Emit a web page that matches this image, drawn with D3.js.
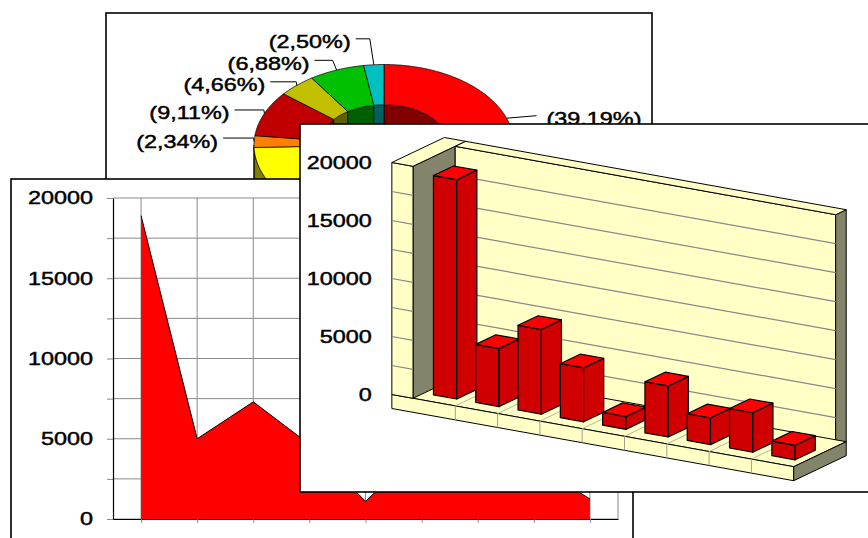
<!DOCTYPE html>
<html><head><meta charset="utf-8">
<script src="https://cdn.jsdelivr.net/npm/d3@7"></script>
<style>
body{margin:0;background:#fff}
svg{display:block}
text{font-family:"Liberation Sans",Arial,sans-serif;fill:#000;stroke:#000;stroke-width:0.45px}
</style>
</head><body>
<svg id="c" width="868" height="538"></svg>
<script>
// ---------------- data ----------------
const categories = ["1","2","3","4","5","6","7","8","9"];
const values = [18900, 5000, 7300, 4650, 1100, 4400, 2300, 3400, 1250];
const pieShares = [39.19, 10.63, 15.03, 9.66, 2.34, 9.11, 4.66, 6.88, 2.50];
const pieColors = ["#FF0000","#3333CC","#808000","#FFFF00","#FF8000","#C00000","#C0C000","#00C000","#00C0C0"];
const yTicks = [0, 5000, 10000, 15000, 20000];
const gridStep = 2500;

// ---------------- helpers ----------------
const svg = d3.select("#c");
const FS = 18, SX = 1.3;
function label(g, x, y, txt, anchor){
  g.append("text")
    .attr("transform", `translate(${x},${y}) scale(${SX},1)`)
    .attr("text-anchor", anchor).attr("dy","0.36em")
    .attr("font-size", FS).text(txt);
}
function panel(x,y,w,h){
  const g = svg.append("g");
  g.append("rect").attr("x",x).attr("y",y).attr("width",w).attr("height",h)
    .attr("fill","#fff").attr("stroke","#000").attr("stroke-width",1.6);
  return g;
}
const pathOf = pts => "M" + pts.map(p => p[0].toFixed(2)+","+p[1].toFixed(2)).join("L") + "Z";
const gridVals = d3.range(0, 20000 + 1, gridStep);

// ================= 1. Doughnut panel (back) =================
const gP = panel(106, 13, 546, 330);
const PC = {cx:384, cy:145, rx:130, ry:80.5, hole:0.5, h:36};
const ept = (a,f,dy=0) => [PC.cx + f*PC.rx*Math.sin(a), PC.cy - f*PC.ry*Math.cos(a) + dy];
const arcPts = (a0,a1,f,dy=0) => {
  const n = Math.max(2, Math.ceil(Math.abs(a1-a0)/0.02));
  return d3.range(n+1).map(i => ept(a0 + (a1-a0)*i/n, f, dy));
};
const darkC = c => { const r = d3.rgb(c); return d3.rgb(r.r*0.5, r.g*0.5, r.b*0.5).formatHex(); };
const clipRange = (a0,a1,lo,hi) => { const s=Math.max(a0,lo), e=Math.min(a1,hi); return s<e ? [[s,e]] : []; };
const slices = d3.pie().sort(null).value(d => d)(pieShares);
const PI = Math.PI;

svg.append("defs").append("clipPath").attr("id","holeClip")
  .append("ellipse").attr("cx",PC.cx).attr("cy",PC.cy)
  .attr("rx",PC.rx*PC.hole).attr("ry",PC.ry*PC.hole);

const gInner = gP.append("g").attr("clip-path","url(#holeClip)");
slices.forEach((s,i) => {
  const segs = clipRange(s.startAngle,s.endAngle,0,PI/2).concat(clipRange(s.startAngle,s.endAngle,1.5*PI,2*PI));
  segs.forEach(([a0,a1]) => {
    gInner.append("path")
      .attr("d", pathOf(arcPts(a0,a1,PC.hole,0).concat(arcPts(a1,a0,PC.hole,PC.h))))
      .attr("fill", darkC(pieColors[i])).attr("stroke","#000").attr("stroke-width",0.7);
  });
});
slices.forEach((s,i) => {
  clipRange(s.startAngle,s.endAngle,PI/2,1.5*PI).forEach(([a0,a1]) => {
    gP.append("path")
      .attr("d", pathOf(arcPts(a0,a1,1,0).concat(arcPts(a1,a0,1,PC.h))))
      .attr("fill", darkC(pieColors[i])).attr("stroke","#000").attr("stroke-width",0.7);
  });
});
slices.forEach((s,i) => {
  gP.append("path")
    .attr("d", pathOf(arcPts(s.startAngle,s.endAngle,1).concat(arcPts(s.endAngle,s.startAngle,PC.hole))))
    .attr("fill", pieColors[i]).attr("stroke","#000").attr("stroke-width",0.7);
});

// labels (slices on the upper half; lower ones lie under the front panels)
const fmtPct = v => "(" + v.toFixed(2).replace(".", ",") + "%)";
const labs = slices.map((s,i) => {
  const mid = (s.startAngle + s.endAngle)/2;
  return {i, mid, E: ept(mid,1), txt: fmtPct(pieShares[i])};
}).filter(d => d.E[1] < PC.cy);
const leftL = labs.filter(d => d.mid > PI).sort((a,b) => b.E[1]-a.E[1]);
let prevY = Infinity;
leftL.forEach(d => {
  d.ly = Math.min(d.E[1] - 0.5, prevY - 21.5); prevY = d.ly;
  const tr = d.E[0] - 22 - 14*Math.abs(Math.sin(d.mid));
  const bx = d.E[0] - Math.min(4, Math.abs(d.E[1]-d.ly));
  gP.append("path").attr("d", `M${d.E[0]},${d.E[1]}L${bx},${d.ly-3}L${tr+5},${d.ly-3}`)
    .attr("fill","none").attr("stroke","#000").attr("stroke-width",1);
  label(gP, tr, d.ly, d.txt, "end");
});
labs.filter(d => d.mid <= PI).forEach(d => {
  d.ly = d.E[1] + 0.5;
  gP.append("path").attr("d", `M${d.E[0]},${d.E[1]}L${d.E[0]+30},${d.ly-3}`)
    .attr("fill","none").attr("stroke","#000").attr("stroke-width",1);
  label(gP, d.E[0] + 40, d.ly, d.txt, "start");
});

// ================= 2. Area chart panel (middle) =================
const gA = panel(11, 179, 622, 420);
const ax = d3.scalePoint().domain(categories).range([113, 618]).padding(0.5);
const ay = d3.scaleLinear().domain([0, 20000]).range([519, 198]);
const gridCol = "#8a8a8a";
gA.selectAll(".hg").data(gridVals).join("line")
  .attr("x1",113).attr("x2",618).attr("y1",d=>ay(d)).attr("y2",d=>ay(d))
  .attr("stroke",gridCol).attr("stroke-width",1);
gA.selectAll(".vg").data(categories).join("line")
  .attr("x1",d=>ax(d)).attr("x2",d=>ax(d)).attr("y1",ay(20000)).attr("y2",ay(0))
  .attr("stroke",gridCol).attr("stroke-width",1);
gA.append("line").attr("x1",618).attr("x2",618).attr("y1",ay(20000)).attr("y2",ay(0))
  .attr("stroke",gridCol).attr("stroke-width",1);
gA.append("path").datum(values)
  .attr("d", d3.area().x((d,i)=>ax(categories[i])).y0(ay(0)).y1(d=>ay(d)))
  .attr("fill","#FF0000");
gA.append("path").datum(values)
  .attr("d", d3.line().x((d,i)=>ax(categories[i])).y(d=>ay(d)))
  .attr("fill","none").attr("stroke","#000").attr("stroke-width",1);
const yAx = gA.append("g").attr("transform","translate(113,0)")
  .call(d3.axisLeft(ay).tickValues(gridVals).tickSize(6).tickSizeOuter(0).tickFormat(""));
yAx.selectAll("line").attr("stroke",gridCol);
yAx.select(".domain").attr("stroke","#000").attr("stroke-width",1.2);
const xAx = gA.append("g").attr("transform",`translate(0,${ay(0)})`)
  .call(d3.axisBottom(ax).tickSize(4).tickSizeOuter(0).tickFormat(""));
xAx.selectAll("line").attr("stroke",gridCol);
xAx.select(".domain").attr("stroke","#000").attr("stroke-width",1.2);
yTicks.forEach(v => label(gA, 93, ay(v), String(v), "end"));

// ================= 3. 3-D column panel (front) =================
const gB = panel(300, 124, 600, 368);
const bv = d3.scaleLinear().domain([0, 20000]).range([0, 232]);
const O = {x:413, y:398.3, ux:42.3, uy:7.6, dx:42, dy:-20};
const P = (c,z,v) => [O.x + c*O.ux + z*O.dx, O.y + c*O.uy + z*O.dy - bv(v)];
const cream = "#FFFFC6", side = "#84846A";
const nC = categories.length;
const floorT = bv.invert(14);
const wallL = -0.5, wallD = 1.25, vTop = 20000;
function poly(pts, fill, sw=1){
  gB.append("path").attr("d", pathOf(pts)).attr("fill", fill)
    .attr("stroke","#000").attr("stroke-width",sw).attr("stroke-linejoin","round");
}
function seg(a,b,col,sw=1){
  gB.append("line").attr("x1",a[0]).attr("y1",a[1]).attr("x2",b[0]).attr("y2",b[1])
    .attr("stroke",col).attr("stroke-width",sw);
}
// back wall slab
poly([P(0,1,0),P(nC,1,0),P(nC,1,vTop),P(0,1,vTop)], cream);
poly([P(nC,1,0),P(nC,wallD,0),P(nC,wallD,vTop),P(nC,1,vTop)], side);
poly([P(0,1,vTop),P(nC,1,vTop),P(nC,wallD,vTop),P(0,wallD,vTop)], cream);
gridVals.filter(v => v>0 && v<vTop).forEach(v => seg(P(0,1,v),P(nC,1,v),"#888",1.2));
// floor slab
poly([P(wallL,0,0),P(nC,0,0),P(nC,wallD,0),P(wallL,wallD,0)], cream);
poly([P(wallL,0,-floorT),P(nC,0,-floorT),P(nC,0,0),P(wallL,0,0)], cream);
poly([P(nC,0,-floorT),P(nC,wallD,-floorT),P(nC,wallD,0),P(nC,0,0)], side);
d3.range(1, nC).forEach(c => {
  seg(P(c,0,0),P(c,1,0),"#b8b8a0",1);
  seg(P(c,0,-floorT),P(c,0,0),"#a0a090",1);
});
// left wall slab
poly([P(0,0,0),P(0,1,0),P(0,1,vTop),P(0,0,vTop)], side);
poly([P(wallL,0,0),P(0,0,0),P(0,0,vTop),P(wallL,0,vTop)], cream);
poly([P(wallL,0,vTop),P(0,0,vTop),P(0,wallD,vTop),P(wallL,wallD,vTop)], cream);
gridVals.filter(v => v>0 && v<vTop).forEach(v => seg(P(wallL,0,v),P(0,0,v),"#888",1.2));
// bars
values.forEach((v,i) => {
  const c0 = i + 0.225, c1 = i + 0.775, z0 = 0.26, z1 = 0.74;
  poly([P(c0,z0,0),P(c1,z0,0),P(c1,z0,v),P(c0,z0,v)], "#D00000", 1.2);
  poly([P(c1,z0,0),P(c1,z1,0),P(c1,z1,v),P(c1,z0,v)], "#D00000", 1.2);
  poly([P(c0,z0,v),P(c1,z0,v),P(c1,z1,v),P(c0,z1,v)], "#FF0000", 1.2);
});
yTicks.forEach(v => { const p = P(wallL,0,v); label(gB, p[0]-20, p[1], String(v), "end"); });
</script>
</body></html>
